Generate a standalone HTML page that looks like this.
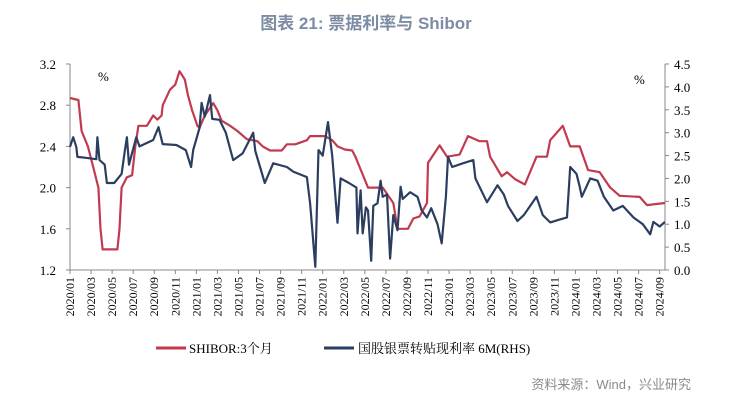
<!DOCTYPE html>
<html><head><meta charset="utf-8"><style>
body{margin:0;background:#fff;width:731px;height:408px;overflow:hidden;font-family:"Liberation Sans","Noto Sans CJK SC",sans-serif}
</style></head><body>
<svg id="chart" width="731" height="408" xmlns="http://www.w3.org/2000/svg">
<text x="366" y="29" text-anchor="middle" font-size="17" font-weight="bold" fill="#7d8ca3" font-family="Liberation Sans, Noto Sans CJK SC, sans-serif">图表 21: 票据利率与 Shibor</text>
<text x="98" y="81" font-size="13" fill="#000" font-family="Liberation Serif, serif">%</text>
<text x="634" y="84" font-size="13" fill="#000" font-family="Liberation Serif, serif">%</text>
<g id="axes"></g>
<g id="series"></g>
<g>
<line x1="156" y1="348" x2="186" y2="348" stroke="#c23a4f" stroke-width="3"/>
<text x="189" y="353" font-size="13" font-family="Liberation Serif, Noto Serif CJK SC, serif">SHIBOR:3个月</text>
<line x1="324" y1="348" x2="354" y2="348" stroke="#2b3e60" stroke-width="3"/>
<text x="358" y="353" font-size="13" font-family="Liberation Serif, Noto Serif CJK SC, serif">国股银票转贴现利率 6M(RHS)</text>
</g>
<text x="691" y="389" text-anchor="end" font-size="13" fill="#8a8a8a" font-family="Liberation Sans, Noto Sans CJK SC, sans-serif">资料来源：Wind，兴业研究</text>
</svg>
<script>
const leftTicks=[1.2,1.6,2.0,2.4,2.8,3.2];
const rightTicks=[0.0,0.5,1.0,1.5,2.0,2.5,3.0,3.5,4.0,4.5];
const xLabels=["2020/01","2020/03","2020/05","2020/07","2020/09","2020/11","2021/01","2021/03","2021/05","2021/07","2021/09","2021/11","2022/01","2022/03","2022/05","2022/07","2022/09","2022/11","2023/01","2023/03","2023/05","2023/07","2023/09","2023/11","2024/01","2024/03","2024/05","2024/07","2024/09"];
// months since 2020/01
const shiborMonths=[0,0.8,1.1,1.7,2.2,2.7,2.9,3.1,4.5,4.7,4.9,5.4,5.9,6.2,6.5,7.3,7.9,8.3,8.7,8.8,9.5,10,10.4,10.9,11.2,11.6,12.1,12.3,12.8,13.6,14,14.4,15.2,15.9,16.8,17.8,18.3,19,20.1,20.6,21.4,22.5,22.8,24.2,24.9,25.4,26.1,26.8,27.1,27.5,28.3,29.7,30.7,31.1,32.1,32.6,33.2,33.9,34,35.1,35.8,37,37.8,38.9,39.6,39.9,41,41.5,42.3,43.2,44.3,45.3,45.6,46.8,47.5,48.4,49.2,50.3,51.3,52.2,54.1,54.8,56.5];
const shiborValues=[2.87,2.85,2.55,2.4,2.2,2.0,1.6,1.4,1.4,1.6,2.0,2.1,2.12,2.4,2.6,2.6,2.7,2.66,2.7,2.8,2.95,3.0,3.13,3.05,2.9,2.75,2.6,2.58,2.7,2.82,2.75,2.65,2.6,2.55,2.47,2.45,2.4,2.36,2.36,2.42,2.42,2.46,2.5,2.5,2.46,2.4,2.37,2.36,2.3,2.2,2.0,2.0,1.85,1.6,1.6,1.7,1.72,1.85,2.24,2.41,2.3,2.32,2.5,2.45,2.45,2.3,2.11,2.15,2.08,2.03,2.3,2.3,2.46,2.6,2.4,2.4,2.17,2.15,2.0,1.92,1.91,1.83,1.85];
const billMonths=[0,0.3,0.6,0.7,1.5,2.5,2.6,2.8,3.3,3.5,4.2,4.9,5.2,5.4,5.6,6.3,6.6,7.9,8.4,8.8,10.1,11,11.5,11.7,12.3,12.5,12.8,13.3,13.5,14.2,14.8,15.5,16.4,17.4,17.6,18.5,19.3,20.6,21.2,22.5,22.8,23.3,23.6,24.0,24.5,24.9,25.4,25.7,26.5,27.2,27.3,27.6,27.8,28.1,28.3,28.6,28.8,29.2,29.5,29.7,30.1,30.4,30.7,31.1,31.4,31.6,32.3,33,33.4,33.9,34.3,34.9,35.3,35.7,35.9,36.3,37.3,38.3,38.5,39.6,40.6,41.2,41.6,42.5,43.1,44.3,44.9,45.6,46.5,47.2,47.5,48.1,48.4,48.6,49.4,50.1,50.7,51.6,52.5,53.5,54.4,55.1,55.4,56,56.5];
const billValues=[2.69,2.9,2.69,2.47,2.45,2.42,2.9,2.4,2.3,1.9,1.9,2.1,2.6,2.9,2.3,2.9,2.7,2.84,3.12,2.75,2.73,2.62,2.25,2.62,3.1,3.65,3.35,3.82,3.3,3.28,3.0,2.4,2.55,3.0,2.6,1.9,2.33,2.25,2.15,2.03,1.46,0.07,2.62,2.5,3.23,2.5,1.03,2.0,1.9,1.8,0.8,1.74,0.8,1.37,1.3,0.2,1.4,1.46,1.95,1.6,1.65,0.25,1.2,0.87,1.82,1.55,1.7,1.6,1.3,1.15,1.35,1.0,0.58,1.6,2.47,2.25,2.33,2.4,2.0,1.48,1.85,1.65,1.4,1.07,1.2,1.6,1.2,1.04,1.1,1.15,2.25,2.1,1.82,1.6,2.0,1.95,1.6,1.3,1.4,1.15,1.0,0.78,1.05,0.95,1.05];

const X0=70,X1=665,Y0=270,Y1=64;
const xs=m=>X0+m*10.53;
const yL=v=>Y0-(v-1.2)/(3.2-1.2)*(Y0-Y1);
const yR=v=>Y0-(v-0)/(4.5-0)*(Y0-Y1);
const NS="http://www.w3.org/2000/svg";
function mk(tag,attrs,parent,text){const e=document.createElementNS(NS,tag);for(const k in attrs)e.setAttribute(k,attrs[k]);if(text!==undefined)e.textContent=text;parent.appendChild(e);return e;}
const axes=document.getElementById('axes'),series=document.getElementById('series');
let e;
e=mk('line',{x1:X0,y1:Y1,x2:X0,y2:Y0,stroke:'#888','stroke-width':1},axes);


e=mk('line',{x1:X1,y1:Y1,x2:X1,y2:Y0,stroke:'#888','stroke-width':1},axes);


e=mk('line',{x1:X0,y1:Y0,x2:X1,y2:Y0,stroke:'#888','stroke-width':1},axes);


leftTicks.forEach(v=>{const y=yL(v);
 mk('line',{x1:X0-4,y1:y,x2:X0,y2:y,stroke:'#888'},axes);
 e=mk('text',{x:X0-14,y:y+5,'text-anchor':'end','font-size':13,'font-family':'Liberation Serif, serif'},axes,v.toFixed(1));
 
 });
rightTicks.forEach(v=>{const y=yR(v);
 mk('line',{x1:X1,y1:y,x2:X1+4,y2:y,stroke:'#888'},axes);
 e=mk('text',{x:X1+9,y:y+5,'font-size':13,'font-family':'Liberation Serif, serif'},axes,v.toFixed(1));
 
 });
xLabels.forEach((l,i)=>{const x=xs(i*2);
 mk('line',{x1:x,y1:Y0,x2:x,y2:Y0+4,stroke:'#888'},axes);
 e=mk('text',{x:0,y:0,'text-anchor':'end','font-size':12,'font-family':'Liberation Serif, serif',transform:`translate(${x+4},${Y0+7}) rotate(-90)`},axes,l);
 
 });
function path(ms,vs,yf){return ms.map((m,i)=>(i?'L':'M')+xs(m).toFixed(1)+','+yf(vs[i]).toFixed(1)).join('');}
e=mk('path',{d:path(shiborMonths,shiborValues,yL),fill:'none',stroke:'#c23a4f','stroke-width':2.2,'stroke-linejoin':'round'},series);


e=mk('path',{d:path(billMonths,billValues,yR),fill:'none',stroke:'#2b3e60','stroke-width':2.2,'stroke-linejoin':'round'},series);


</script>
</body></html>
